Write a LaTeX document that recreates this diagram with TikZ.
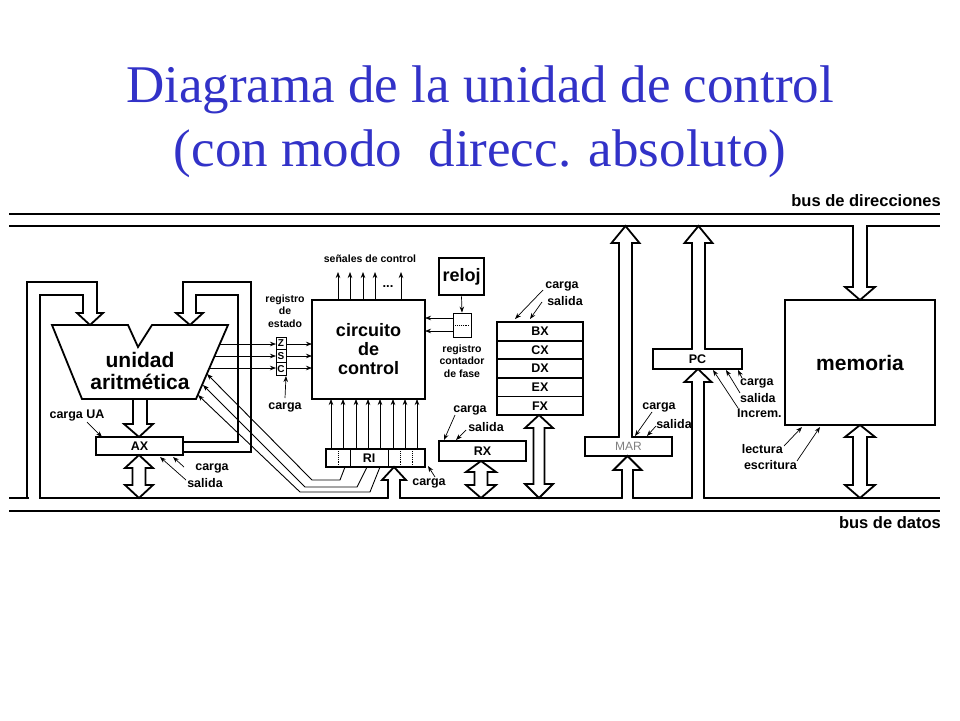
\documentclass[tikz,border=0pt]{standalone}
\usepackage{fontspec}
\setmainfont{Liberation Serif}
\setsansfont{Liberation Sans}
\usetikzlibrary{arrows.meta}
\definecolor{titleblue}{RGB}{50,50,200}
\tikzset{
 thk/.style={line width=1.8pt, line join=miter},
 thn/.style={line width=0.9pt},
 sarr/.style={line width=0.7pt,-{Stealth[length=6pt,width=4.5pt]}},
 lbl/.style={font=\sffamily\bfseries\fontsize{12.5}{12.5}\selectfont, inner sep=0pt},
 tiny/.style={font=\sffamily\bfseries\fontsize{10.5}{12.5}\selectfont, inner sep=0pt, align=center},
 reg/.style={draw, line width=1.8pt, inner sep=0pt, font=\sffamily\bfseries\fontsize{12.5}{12.5}\selectfont},
}
\newcommand\hollowarr[6]{%
 \fill[white] ({#1-#5},#2)--({#1-#5},#3)--({#1-#6},#3)--(#1,#4)--({#1+#6},#3)--({#1+#5},#3)--({#1+#5},#2)--cycle;
 \fill[white] ({#1-#5+1},{#2-2}) rectangle ({#1+#5-1},{#2+2});
 \draw[thk] ({#1-#5},#2)--({#1-#5},#3)--({#1-#6},#3)--(#1,#4)--({#1+#6},#3)--({#1+#5},#3)--({#1+#5},#2);}
\newcommand\dblarr[7]{%
 \draw[thk,fill=white] (#1,#2)--({#1+#7},#3)--({#1+#6},#3)--({#1+#6},#4)--({#1+#7},#4)--(#1,#5)--({#1-#7},#4)--({#1-#6},#4)--({#1-#6},#3)--({#1-#7},#3)--cycle;}
\begin{document}
\begin{tikzpicture}[x=1pt,y=-1pt]
\useasboundingbox[fill=white] (0,0) rectangle (960,720);
\node[font=\fontsize{53}{64}\selectfont, text=titleblue, align=center] (title) at (480,122)
 {Diagrama de la unidad de control\\(con modo\ \ direcc. absoluto)};
\draw[thk] (9,214) -- (940,214);
\draw[thk] (9,226) -- (940,226);
\draw[thk] (9,498) -- (940,498);
\draw[thk] (9,511) -- (940,511);
\node[font=\sffamily\bfseries\fontsize{16.5}{16.5}\selectfont, anchor=east, inner sep=0pt] (busdir) at (941,201) {bus de direcciones};
\node[font=\sffamily\bfseries\fontsize{16.5}{16.5}\selectfont, anchor=east, inner sep=0pt] (busdat) at (941,523) {bus de datos};
\fill[white] (28.5,495) rectangle (38.5,500);
\draw[thk] (40,498)--(40,295)--(83,295)--(83,313)--(77,313)--(90,325)--(103,313)--(97,313)--(97,282)--(27,282)--(27,498);
\draw[thk] (183,452)--(251,452)--(251,282)--(183,282)--(183,313)--(176,313)--(190,325)--(203,313)--(196,313)--(196,295)--(238,295)--(238,442)--(183,442);
\draw[thk] (52,325)--(128,325)--(138,347)--(152,325)--(228,325)--(196,399)--(82,399)--cycle;
\node[font=\sffamily\bfseries\fontsize{21}{22}\selectfont, align=center, inner sep=0pt] (alu) at (140,371) {unidad\\aritmética};
\draw[thk] (133,399)--(133,424)--(124,424)--(139,437)--(153,424)--(147,424)--(147,399);
\node[reg, minimum width=87pt, minimum height=18pt] (ax) at (139.5,446) {AX};
\dblarr{139}{455}{468}{485}{498}{6.5}{14}
\node[lbl] (cargaua) at (77,416) {carga UA};
\draw[sarr] (87,422) -- (102,437);
\node[lbl] (cargaax) at (212,468) {carga};
\node[lbl] (salidaax) at (205,483) {salida};
\draw[sarr] (184,467) -- (173,457);
\draw[sarr] (186,480) -- (160,457);
\node[draw, thn, minimum width=10pt, minimum height=38pt, inner sep=0pt] (flags) at (281,356) {};
\draw[thn] (276,349.5)--(286,349.5) (276,362.5)--(286,362.5);
\node[font=\sffamily\bfseries\fontsize{10}{10}\selectfont, inner sep=0pt] at (281,343) {Z};
\node[font=\sffamily\bfseries\fontsize{10}{10}\selectfont, inner sep=0pt] at (281,356) {S};
\node[font=\sffamily\bfseries\fontsize{10}{10}\selectfont, inner sep=0pt] at (281,369) {C};
\foreach \yy/\xx in {344/220,356/215,368/210}{
 \draw[sarr] (\xx,\yy) -- (276,\yy);
 \draw[sarr] (286,\yy) -- (312,\yy);}
\node[tiny] (regest) at (285,311) {registro\\de\\estado};
\node[lbl] (cargafl) at (285,407) {carga};
\draw[sarr] (285,398) -- (286,376);
\node[draw, thk, minimum width=113pt, minimum height=99pt, inner sep=0pt, align=center, font=\sffamily\bfseries\fontsize{18}{19}\selectfont] (cc) at (368.5,349.5) {circuito\\de\\control};
\foreach \xx in {338,350,363,375,401} \draw[sarr] (\xx,300) -- (\xx,272);
\node[font=\sffamily\bfseries\fontsize{13}{13}\selectfont, inner sep=0pt] (dots) at (388,287) {...};
\node[tiny] (senales) at (370,259) {señales de control};
\node[draw, thk, minimum width=99pt, minimum height=18pt, inner sep=0pt] (ri) at (375.5,458) {};
\draw[thn] (350,449)--(350,467) (388,449)--(388,467);
\draw[thn, densely dotted] (338,451)--(338,465) (400,451)--(400,465) (412,451)--(412,465);
\node[font=\sffamily\bfseries\fontsize{12.5}{12.5}\selectfont, inner sep=0pt] (ritext) at (369,458) {RI};
\foreach \xx in {331,343,356,368,380,393,405,417} \draw[sarr] (\xx,449) -- (\xx,399);
\hollowarr{394}{498}{480}{467}{6}{12}
\node[lbl] (cargari) at (429,483) {carga};
\draw[sarr] (435,477) -- (428,466);
\draw[thn,-{Stealth[length=6pt,width=4.5pt]}] (345,467)--(340,480)--(312,480)--(207,374);
\draw[thn,-{Stealth[length=6pt,width=4.5pt]}] (367,467)--(357,487)--(305,487)--(203,385);
\draw[thn,-{Stealth[length=6pt,width=4.5pt]}] (380,467)--(370,492)--(300,492)--(198,395);
\node[draw, line width=2.6pt, minimum width=45pt, minimum height=37pt, inner sep=0pt, font=\sffamily\bfseries\fontsize{18}{18}\selectfont] (reloj) at (461.5,276.5) {reloj};
\node[draw, thn, minimum width=18pt, minimum height=24pt, inner sep=0pt] (fase) at (462,325) {};
\draw[thn, densely dotted] (455,325)--(469,325);
\draw[sarr] (reloj.south) -- (fase.north);
\draw[sarr] (453,318) -- (425,318);
\draw[sarr] (453,331) -- (425,331);
\node[tiny] (regfase) at (462,361) {registro\\contador\\de fase};
\foreach \nm [count=\i from 0] in {BX,CX,DX,EX,FX}
 \node[reg, minimum width=86pt, minimum height=18.6pt] (r\nm) at (540,{331.3+18.6*\i}) {\nm};
\node[lbl] (cargab) at (562,286) {carga};
\node[lbl] (salidab) at (565,301) {salida};
\draw[sarr] (543,290) -- (515,319);
\draw[sarr] (542,302) -- (530,319);
\dblarr{539}{415}{428}{484}{498}{5.5}{14}
\node[reg, minimum width=87pt, minimum height=20pt] (rx) at (482.5,451) {RX};
\node[lbl] (cargarx) at (470,410) {carga};
\node[lbl] (salidarx) at (486,427) {salida};
\draw[sarr] (455,415) -- (444,440);
\draw[sarr] (466,430) -- (456,440);
\dblarr{481}{461}{472}{485}{498}{6.5}{15}
\node[draw, thk, minimum width=87pt, minimum height=19pt, inner sep=0pt, text=gray, font=\sffamily\fontsize{12}{12}\selectfont] (mar) at (628.5,446.5) {MAR};
\hollowarr{625.5}{437}{243}{226}{6.5}{14}
\hollowarr{627.5}{498}{470}{456}{5.5}{14}
\node[lbl] (cargam) at (659,407) {carga};
\node[lbl] (salidam) at (674,424) {salida};
\draw[sarr] (652,412) -- (635,436);
\draw[sarr] (656,426) -- (647,436);
\node[reg, minimum width=89pt, minimum height=20pt] (pc) at (697.5,359) {PC};
\hollowarr{698.5}{349}{243}{226}{6.5}{14}
\hollowarr{698}{498}{382}{369}{6}{13.5}
\node[lbl, anchor=west] (cargapc) at (740,383) {carga};
\node[lbl, anchor=west] (salidapc) at (740,398) {salida};
\node[lbl, anchor=west] (incpc) at (737,413) {Increm.};
\draw[sarr] (742,378) -- (738,370);
\draw[sarr] (740,393) -- (726,370);
\draw[sarr] (738,408) -- (713,370);
\node[draw, thk, minimum width=150pt, minimum height=125pt, inner sep=0pt, font=\sffamily\bfseries\fontsize{21}{21}\selectfont] (mem) at (860,362.5) {memoria};
\hollowarr{860}{226}{287}{300}{7}{15}
\dblarr{860}{425}{437}{485}{498}{7}{15}
\node[lbl, anchor=east] (lect) at (783,449) {lectura};
\node[lbl, anchor=east] (escr) at (797,465) {escritura};
\draw[sarr] (784,446) -- (802,427);
\draw[sarr] (797,461) -- (820,427);
\end{tikzpicture}
\end{document}
